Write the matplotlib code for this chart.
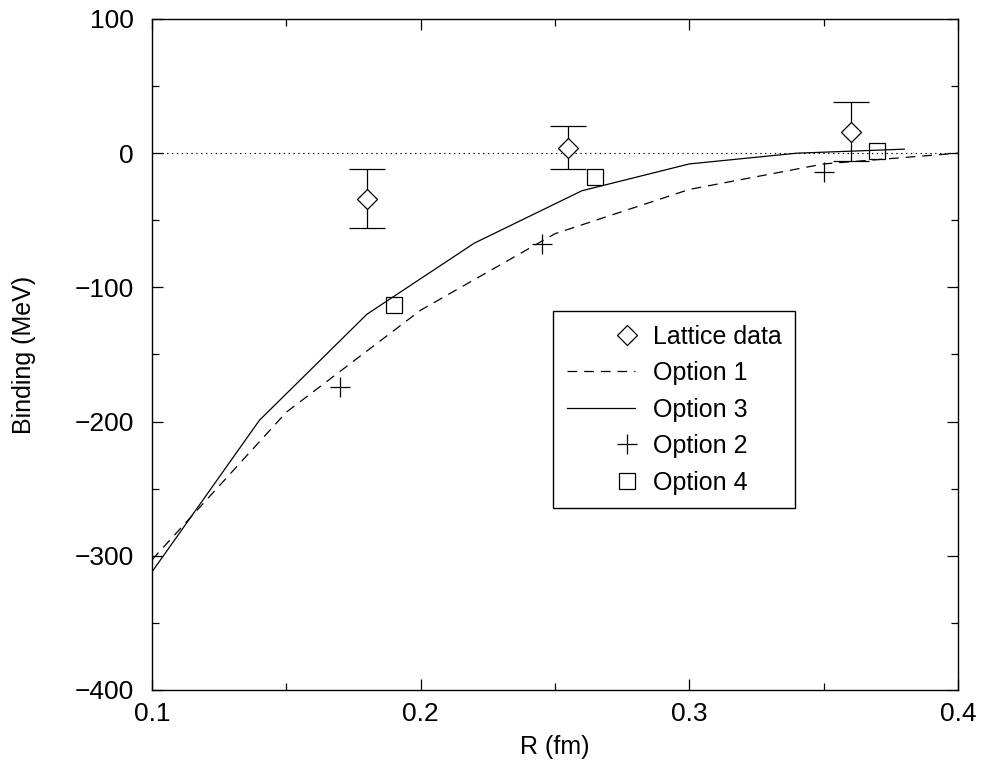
import numpy as np
import matplotlib
matplotlib.use('Agg')
import matplotlib.pyplot as plt
from matplotlib.legend_handler import HandlerBase
from matplotlib.lines import Line2D
from matplotlib.ticker import MultipleLocator, FormatStrFormatter

plt.rcParams['font.family'] = ['Liberation Sans', 'DejaVu Sans']
plt.rcParams['lines.scale_dashes'] = False

# lattice points with error bars
r_lat = [0.18, 0.255, 0.36]
b_lat = [-34, 4, 16]
b_err = [22, 16, 22]

# option curves
r_opt1 = [0.10, 0.15, 0.20, 0.25, 0.30, 0.35, 0.40]
b_opt1 = [-303, -193, -117, -60, -27, -8, 0]

r_opt3 = [0.10, 0.14, 0.18, 0.22, 0.26, 0.30, 0.34, 0.38]
b_opt3 = [-312, -199, -120, -67, -28, -8, 0, 3]

# option points
r_opt2 = [0.17, 0.245, 0.35]
b_opt2 = [-174, -68, -14]

r_opt4 = [0.19, 0.265, 0.37]
b_opt4 = [-113, -18, 2]


class MarkerAtEnd(HandlerBase):
    # marker sits at the right end of the handle, xmgrace style
    def create_artists(self, legend, orig_handle, xdescent, ydescent,
                       width, height, fontsize, trans):
        x = -xdescent + width - 6
        y = (height - ydescent) / 2
        m = Line2D([x], [y])
        self.update_prop(m, orig_handle, legend)
        m.set_linestyle('none')
        m.set_transform(trans)
        return [m]


fig = plt.figure(figsize=(9.83, 7.75), dpi=100)
ax = fig.add_axes([0.1546, 0.1097, 0.82, 0.8658])

ax.axhline(0, color='black', lw=0.8, ls=(0, (1, 2.5)), zorder=1)

l1, = ax.plot(r_opt1, b_opt1, color='black', lw=0.9, dashes=(7, 5), label='Option 1')
l3, = ax.plot(r_opt3, b_opt3, color='black', lw=0.9, label='Option 3')
p2, = ax.plot(r_opt2, b_opt2, ls='none', marker='+', ms=15, mew=0.9,
              color='black', label='Option 2')
p4, = ax.plot(r_opt4, b_opt4, ls='none', marker='s', ms=12, mew=0.9,
              mfc='none', mec='black', label='Option 4')

ax.errorbar(r_lat, b_lat, yerr=b_err, fmt='none', ecolor='black',
            elinewidth=0.9, capsize=13, capthick=0.9, zorder=3)
pl, = ax.plot(r_lat, b_lat, ls='none', marker='D', ms=10, mew=0.9,
              mfc='white', mec='black', label='Lattice data', zorder=4)

ax.set_xlim(0.1, 0.4)
ax.set_ylim(-400, 100)
ax.xaxis.set_major_locator(MultipleLocator(0.1))
ax.xaxis.set_minor_locator(MultipleLocator(0.05))
ax.yaxis.set_major_locator(MultipleLocator(100))
ax.yaxis.set_minor_locator(MultipleLocator(50))
ax.xaxis.set_major_formatter(FormatStrFormatter('%g'))

ax.tick_params(which='both', direction='in', top=True, right=True, width=0.9)
ax.tick_params(which='major', length=8, labelsize=19)
ax.tick_params(which='minor', length=5)
ax.tick_params(axis='x', which='major', pad=9)
ax.tick_params(axis='y', which='major', pad=13)
for s in ax.spines.values():
    s.set_linewidth(1.0)

ax.set_xlabel('R (fm)', fontsize=18, labelpad=6)
ax.set_ylabel('Binding (MeV)', fontsize=18, labelpad=28)

end = MarkerAtEnd()
leg = ax.legend([pl, l1, l3, p2, p4],
                ['Lattice data', 'Option 1', 'Option 3', 'Option 2', 'Option 4'],
                handler_map={pl: end, p2: end, p4: end},
                loc='upper left', bbox_to_anchor=(0.4975, 0.565), borderaxespad=0,
                fontsize=18, frameon=True, fancybox=False, edgecolor='black',
                framealpha=1, handlelength=2.75, handletextpad=0.7,
                labelspacing=0.5, borderpad=0.55)
leg.get_frame().set_linewidth(1.0)

fig.savefig('out.png', dpi=100)
